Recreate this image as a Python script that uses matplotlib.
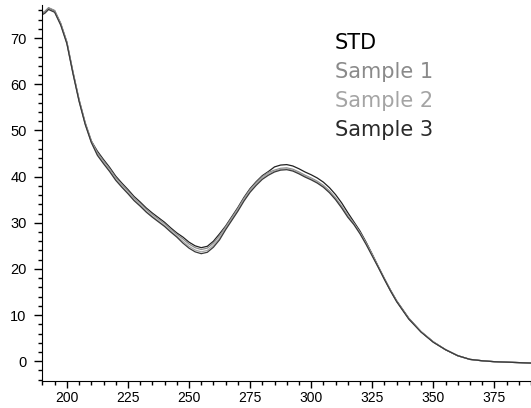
import matplotlib

matplotlib.use("Agg")
import matplotlib.pyplot as plt
from matplotlib.ticker import MultipleLocator

# wavelength (nm) and absorbance traces
wavelength = [190, 191, 192.5, 195, 197.5, 200, 202.5, 205, 207.5, 210, 212.5, 215, 217.5,
              220, 222.5, 225, 227.5, 230, 232.5, 235, 237.5, 240, 242.5, 245, 247.5,
              250, 252.5, 255, 257.5, 260, 262.5, 265, 267.5, 270, 272.5, 275, 277.5,
              280, 282.5, 285, 287.5, 290, 292.5, 295, 297.5, 300, 302.5, 305, 307.5,
              310, 312.5, 315, 317.5, 320, 322.5, 325, 327.5, 330, 332.5, 335, 340, 345,
              350, 355, 360, 365, 370, 375, 380, 385, 390]

std = [75.4, 75.7, 76.5, 75.9, 73.1, 69.1, 62.6, 56.6, 51.6, 47.7, 45.5, 43.7, 42.0,
       40.1, 38.6, 37.2, 35.7, 34.5, 33.2, 32.1, 31.1, 30.1, 28.9, 27.8, 26.9,
       25.8, 25.0, 24.6, 24.9, 26.0, 27.6, 29.3, 31.3, 33.3, 35.5, 37.4, 38.9,
       40.2, 41.1, 42.1, 42.5, 42.6, 42.3, 41.7, 41.0, 40.4, 39.7, 38.8, 37.6,
       36.1, 34.3, 32.2, 30.2, 28.2, 25.8, 23.2, 20.5, 17.9, 15.4, 13.1, 9.3, 6.4,
       4.2, 2.5, 1.2, 0.4, 0.1, -0.1, -0.2, -0.3, -0.4]

sample1 = [75.5, 75.8, 76.6, 76.0, 73.2, 69.2, 62.7, 56.7, 51.7, 47.8, 45.2, 43.4, 41.7,
           39.8, 38.3, 36.9, 35.4, 34.2, 32.9, 31.8, 30.8, 29.8, 28.6, 27.5, 26.5,
           25.4, 24.6, 24.2, 24.5, 25.6, 27.2, 29.1, 31.1, 33.1, 35.3, 37.2, 38.7,
           40.0, 40.9, 41.4, 41.8, 41.9, 41.6, 41.0, 40.3, 39.7, 39.0, 38.1, 36.9,
           35.4, 33.6, 31.6, 29.9, 27.9, 25.6, 23.1, 20.5, 17.8, 15.3, 13.0, 9.2, 6.4,
           4.2, 2.5, 1.2, 0.4, 0.1, -0.1, -0.2, -0.3, -0.4]

sample2 = [75.2, 75.5, 76.3, 75.7, 72.9, 68.9, 62.4, 56.4, 51.4, 47.5, 44.8, 43.0, 41.3,
           39.4, 37.9, 36.5, 35.0, 33.8, 32.5, 31.4, 30.4, 29.4, 28.2, 27.1, 26.0,
           24.9, 24.1, 23.7, 24.0, 25.1, 26.7, 28.8, 30.8, 32.8, 35.0, 36.9, 38.4,
           39.7, 40.6, 41.2, 41.6, 41.7, 41.4, 40.8, 40.1, 39.5, 38.8, 37.9, 36.7,
           35.2, 33.4, 31.4, 29.8, 27.8, 25.5, 23.0, 20.4, 17.8, 15.3, 13.0, 9.2, 6.4,
           4.2, 2.5, 1.2, 0.4, 0.1, -0.1, -0.2, -0.3, -0.4]

sample3 = [75.1, 75.4, 76.2, 75.6, 72.8, 68.8, 62.3, 56.3, 51.3, 47.4, 44.6, 42.8, 41.1,
           39.2, 37.7, 36.3, 34.8, 33.6, 32.3, 31.2, 30.2, 29.2, 28.0, 26.9, 25.6,
           24.5, 23.7, 23.3, 23.6, 24.7, 26.3, 28.5, 30.5, 32.5, 34.7, 36.6, 38.1,
           39.4, 40.3, 41.0, 41.4, 41.5, 41.2, 40.6, 39.9, 39.3, 38.6, 37.7, 36.5,
           35.0, 33.2, 31.2, 29.6, 27.6, 25.3, 22.8, 20.3, 17.7, 15.2, 12.9, 9.1, 6.3,
           4.1, 2.5, 1.2, 0.4, 0.1, -0.1, -0.2, -0.3, -0.4]

labels = ["STD", "Sample 1", "Sample 2", "Sample 3"]
line_colors = ["#202020", "#8c8c8c", "#a8a8a8", "#3a3a3a"]
text_colors = ["#000000", "#8a8a8a", "#a4a4a4", "#2a2a2a"]

plt.rcParams["font.family"] = ["Liberation Sans", "DejaVu Sans"]

fig = plt.figure(figsize=(5.31, 4.08), dpi=100)
ax = fig.add_axes([0.079, 0.066, 0.921, 0.922])

for ys, c in zip([std, sample1, sample2, sample3], line_colors):
    ax.plot(wavelength, ys, color=c, lw=0.9)

ax.set_xlim(189.8, 390)
ax.set_ylim(-4.3, 77.2)
ax.xaxis.set_major_locator(MultipleLocator(25))
ax.xaxis.set_minor_locator(MultipleLocator(5))
ax.yaxis.set_major_locator(MultipleLocator(10))
ax.yaxis.set_minor_locator(MultipleLocator(2))
ax.tick_params(which="major", length=6, width=1, labelsize=10.5, colors="black")
ax.tick_params(axis="y", which="major", pad=5)
ax.tick_params(axis="x", which="major", length=5, pad=2, labelsize=10)
ax.tick_params(which="minor", length=3, width=1)
ax.spines["top"].set_visible(False)
ax.spines["right"].set_visible(False)

for i, (lab, tc) in enumerate(zip(labels, text_colors)):
    ax.text(0.599, 0.898 - i * 0.0765, lab, color=tc, fontsize=15,
            family="DejaVu Sans", transform=ax.transAxes, va="center", ha="left")

fig.savefig("out.png", dpi=100)
